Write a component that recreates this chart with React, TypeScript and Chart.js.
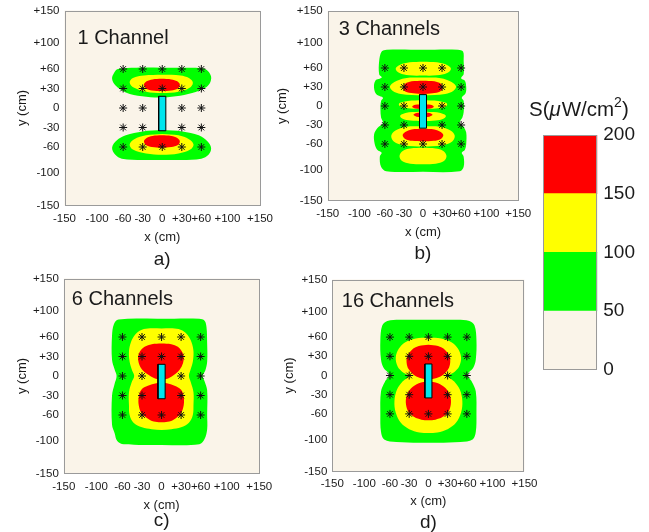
import React, { useEffect, useRef } from 'react';
import { Chart, registerables } from 'chart.js';

Chart.register(...registerables);

type Pt = [number, number];

// ---------- shared data ----------
const AXIS_TICKS = [-150, -100, -60, -30, 0, 30, 60, 100, 150];
const PROBE_X = [-60, -30, 0, 30, 60];
const PROBE_Y = [60, 30, 0, -30, -60];
const ANTENNA_X = [-5.5, 5.5];
const ANTENNA_Y = [-35, 18];
const LEVELS = [0, 50, 100, 150, 200];
const LEVEL_COLORS = ['#FAF4E9', '#00FF00', '#FFFF00', '#FF0000'];
const CB_TITLE = ['S(', 'μ', 'W/cm', '2', ')'];

// ---------- panel a : 1 Channel ----------
const A_GREEN_UPPER: Pt[] = [[0, 62], [40, 62], [62, 61], [70, 57], [75, 48], [73, 38], [66, 31], [46, 23], [21, 18], [-5, 16], [-31, 18], [-56, 24], [-72, 35], [-77, 45], [-74, 54], [-68, 60], [-40, 62], [0, 62]];
const A_YELLOW_UPPER: Pt[] = [[0, 51], [28, 50], [41, 46], [47, 39], [42, 31], [25, 25], [0, 23], [-25, 25], [-43, 31], [-50, 39], [-45, 46], [-28, 50], [0, 51]];
const A_RED_UPPER: Pt[] = [[-1, 45], [14, 44], [23, 41], [27, 36], [24, 30], [14, 27], [-1, 26], [-16, 27], [-25, 30], [-28, 36], [-24, 41], [-15, 44], [-1, 45]];
const A_GREEN_LOWER: Pt[] = [[0, -34], [31, -36], [56, -42], [70, -52], [75, -62], [71, -72], [60, -78], [30, -80], [0, -80], [-30, -80], [-62, -78], [-72, -72], [-77, -61], [-70, -50], [-56, -42], [-30, -36], [0, -34]];
const A_YELLOW_LOWER: Pt[] = [[0, -40], [25, -42], [41, -48], [48, -56], [43, -64], [25, -70], [0, -72], [-25, -70], [-45, -64], [-50, -56], [-43, -48], [-25, -42], [0, -40]];
const A_RED_LOWER: Pt[] = [[-1, -42], [14, -43], [23, -46], [27, -51], [24, -57], [14, -60], [-1, -61], [-16, -60], [-25, -57], [-28, -51], [-24, -46], [-15, -43], [-1, -42]];

// ---------- panel b : 3 Channels ----------
const B_GREEN: Pt[] = [[0, 89], [55, 89], [63, 86], [64, 71], [64, 50], [60, 44], [66, 40], [68, 30], [67, 20], [61, 13], [64, 8], [64, -10], [62, -18], [58, -26], [64, -33], [68, -42], [68, -60], [66, -69], [61, -74], [64, -80], [64, -96], [58, -103], [0, -104], [-58, -103], [-66, -96], [-68, -80], [-65, -74], [-72, -69], [-76, -60], [-77, -45], [-72, -35], [-63, -27], [-66, -18], [-67, -5], [-66, 8], [-63, 13], [-73, 18], [-77, 28], [-75, 40], [-65, 45], [-69, 50], [-69, 71], [-65, 86], [-57, 89], [0, 89]];
const B_YELLOW_TOP: Pt[] = [[0, 70], [22, 69], [37, 65], [44, 59], [38, 52], [22, 48.5], [0, 48], [-22, 48.5], [-37, 52], [-43, 59], [-36, 65], [-21, 69], [0, 70]];
const B_YELLOW_UP: Pt[] = [[0, 45], [28, 44], [45, 38], [52, 31], [48, 24], [35, 19], [0, 17], [-35, 19], [-48, 24], [-52, 31], [-45, 38], [-28, 44], [0, 45]];
const B_RED_UP: Pt[] = [[0, 40], [18, 39], [28, 35], [31, 29], [27, 23], [15, 20], [0, 19], [-15, 20], [-28, 23], [-31, 29], [-28, 35], [-18, 39], [0, 40]];
const B_YELLOW_MID1: Pt[] = [[0, 9], [24, 8], [36, 5], [38, 2], [34, -2], [20, -4], [0, -5], [-20, -4], [-34, -2], [-38, 2], [-36, 5], [-24, 8], [0, 9]];
const B_YELLOW_MID2: Pt[] = [[0, -9], [22, -10], [33, -13], [36, -16], [32, -20], [20, -23], [0, -24], [-20, -23], [-32, -20], [-36, -16], [-33, -13], [-22, -10], [0, -9]];
const B_RED_MID1: Pt[] = [[0, 2.5], [12, 2], [17, -1], [12, -4], [0, -4.5], [-12, -4], [-17, -1], [-12, 2], [0, 2.5]];
const B_RED_MID2: Pt[] = [[0, -10.5], [10, -11], [15, -14], [10, -17], [0, -17.5], [-10, -17], [-15, -14], [-10, -11], [0, -10.5]];
const B_YELLOW_LOW: Pt[] = [[0, -32], [28, -33], [44, -39], [50, -47], [46, -56], [30, -62], [0, -64], [-30, -62], [-46, -56], [-50, -47], [-44, -39], [-28, -33], [0, -32]];
const B_RED_LOW: Pt[] = [[0, -36], [18, -37], [28, -41], [32, -46], [28, -52], [17, -55], [0, -56], [-17, -55], [-28, -52], [-32, -46], [-28, -41], [-18, -37], [0, -36]];
const B_YELLOW_BOTTOM: Pt[] = [[0, -66], [20, -67], [32, -71], [37, -79], [33, -87], [20, -91], [0, -92], [-20, -91], [-33, -87], [-37, -79], [-32, -71], [-20, -67], [0, -66]];

// ---------- panel c : 6 Channels ----------
const C_GREEN: Pt[] = [[0, 88], [58, 88], [66, 85], [69, 75], [70, 50], [70, 22], [67, 8], [63, 0], [66, -8], [70, -22], [70, -60], [70, -82], [66, -97], [58, -105], [0, -106], [-58, -105], [-68, -100], [-72, -88], [-76, -75], [-76, -30], [-72, -12], [-69, 0], [-72, 10], [-76, 25], [-76, 62], [-73, 80], [-66, 87], [0, 88]];
const C_YELLOW: Pt[] = [[0, 73], [20, 73], [32, 70], [40, 63], [46, 52], [49, 38], [48, 22], [44, 8], [42, 0], [45, -10], [49, -25], [49, -45], [48, -60], [42, -72], [30, -79], [15, -82], [0, -83], [-15, -82], [-30, -79], [-43, -72], [-49, -60], [-50, -45], [-50, -25], [-46, -10], [-42, 0], [-45, 8], [-49, 22], [-50, 38], [-47, 52], [-41, 63], [-33, 70], [-21, 73], [0, 73]];
const C_RED_UPPER: Pt[] = [[0, 50], [15, 49], [25, 45], [31, 38], [34, 30], [33, 20], [28, 10], [21, 3], [10, -4], [0, -6], [-10, -4], [-22, 3], [-30, 10], [-35, 20], [-36, 30], [-33, 38], [-26, 45], [-15, 49], [0, 50]];
const C_RED_LOWER: Pt[] = [[0, -10], [8, -11], [20, -15], [30, -21], [34, -32], [34, -45], [30, -57], [22, -65], [12, -70], [0, -71], [-12, -70], [-22, -65], [-31, -57], [-35, -45], [-35, -32], [-31, -21], [-21, -15], [-8, -11], [0, -10]];

// ---------- panel d : 16 Channels ----------
const D_GREEN: Pt[] = [[0, 87], [45, 87], [64, 85], [72, 78], [75, 55], [74, 25], [70, 12], [61, 1], [68, -10], [74, -25], [75, -60], [74, -88], [69, -100], [50, -104], [0, -105], [-50, -104], [-69, -100], [-74, -88], [-75, -60], [-74, -25], [-68, -10], [-61, 1], [-70, 12], [-74, 25], [-75, 55], [-72, 78], [-64, 85], [-45, 87], [0, 87]];
const D_YELLOW: Pt[] = [[0, 59], [20, 58], [36, 52], [46, 42], [51, 28], [48, 14], [40, 5], [31, -1], [40, -9], [49, -22], [53, -40], [51, -58], [43, -74], [30, -84], [14, -89], [0, -90], [-14, -89], [-30, -84], [-43, -74], [-51, -58], [-53, -40], [-49, -22], [-40, -9], [-31, -1], [-40, 5], [-48, 14], [-51, 28], [-46, 42], [-36, 52], [-20, 58], [0, 59]];
const D_RED_UPPER: Pt[] = [[0, 48], [15, 46], [26, 40], [33, 30], [34, 20], [31, 10], [24, 2], [13, -4], [0, -6], [-13, -4], [-24, 2], [-31, 10], [-34, 20], [-33, 30], [-26, 40], [-15, 46], [0, 48]];
const D_RED_LOWER: Pt[] = [[0, -9], [15, -12], [27, -20], [34, -32], [35, -45], [31, -57], [22, -65], [11, -69], [0, -70], [-11, -69], [-22, -65], [-31, -57], [-35, -45], [-34, -32], [-27, -20], [-15, -12], [0, -9]];

// ---------- panels ----------
interface Contour { level: number; pts: Pt[] }
interface PanelSpec { title: string; tag: string; contours: Contour[] }

const PANELS: PanelSpec[] = [
  {
    title: '1 Channel', tag: 'a)',
    contours: [
      { level: 1, pts: A_GREEN_UPPER }, { level: 1, pts: A_GREEN_LOWER },
      { level: 2, pts: A_YELLOW_UPPER }, { level: 2, pts: A_YELLOW_LOWER },
      { level: 3, pts: A_RED_UPPER }, { level: 3, pts: A_RED_LOWER },
    ],
  },
  {
    title: '3 Channels', tag: 'b)',
    contours: [
      { level: 1, pts: B_GREEN },
      { level: 2, pts: B_YELLOW_TOP }, { level: 2, pts: B_YELLOW_UP }, { level: 2, pts: B_YELLOW_MID1 },
      { level: 2, pts: B_YELLOW_MID2 }, { level: 2, pts: B_YELLOW_LOW }, { level: 2, pts: B_YELLOW_BOTTOM },
      { level: 3, pts: B_RED_UP }, { level: 3, pts: B_RED_MID1 }, { level: 3, pts: B_RED_MID2 }, { level: 3, pts: B_RED_LOW },
    ],
  },
  {
    title: '6 Channels', tag: 'c)',
    contours: [
      { level: 1, pts: C_GREEN }, { level: 2, pts: C_YELLOW },
      { level: 3, pts: C_RED_UPPER }, { level: 3, pts: C_RED_LOWER },
    ],
  },
  {
    title: '16 Channels', tag: 'd)',
    contours: [
      { level: 1, pts: D_GREEN }, { level: 2, pts: D_YELLOW },
      { level: 3, pts: D_RED_UPPER }, { level: 3, pts: D_RED_LOWER },
    ],
  },
];

// ---------- layout (page pixels) ----------
interface Box {
  L: number; T: number; R: number; B: number;
  tickY: number; xTitleY: number; tagY: number; yTitleX: number;
  titleDX: number; titleDY: number;
}
const PANEL_BOXES: Box[] = [
  { L: 64.5, T: 10.5, R: 260, B: 205.5, tickY: 219, xTitleY: 237, tagY: 260, yTitleX: 22.5, titleDX: 13, titleDY: 28 },
  { L: 327.7, T: 11, R: 518.3, B: 201, tickY: 213.5, xTitleY: 232, tagY: 254, yTitleX: 282.7, titleDX: 11, titleDY: 18 },
  { L: 63.8, T: 278.5, R: 259.3, B: 473.5, tickY: 486.5, xTitleY: 505, tagY: 521, yTitleX: 22.7, titleDX: 8, titleDY: 20.5 },
  { L: 332.3, T: 279.5, R: 524.5, B: 471.5, tickY: 484, xTitleY: 501, tagY: 523, yTitleX: 289, titleDX: 9.5, titleDY: 22 },
];
const CB_BOX = { L: 543.3, T: 135, R: 597.3, B: 369.7, titleX: 529, titleBase: 116 };

const FONT = "'Liberation Sans', Arial, Helvetica, sans-serif";
const TEXT = '#1a1a1a';
const FRAME = '#9a9a9a';

const fmtTick = (v: number) => (v > 0 ? '+' + v : String(v));

function Panel({ spec, box }: { spec: PanelSpec; box: Box }) {
  const ref = useRef<HTMLCanvasElement>(null);
  const cl = Math.floor(box.L - 64);
  const ct = Math.floor(box.T - 12);
  const cw = Math.ceil(box.R + 24 - cl);
  const ch = Math.ceil(box.tagY + 16 - ct);

  useEffect(() => {
    const yAxisW = box.L - cl;
    const padTop = box.T - ct;
    const padRight = cw - (box.R - cl);
    const xTitleLH = 13 * 1.2;
    const xAxisH = box.xTitleY - box.B + xTitleLH / 2;
    const padBottom = ch - padTop - (box.B - box.T) - xAxisH;

    const datasets: any[] = spec.contours.map((c) => ({
      data: c.pts.map(([x, y]) => ({ x, y })),
      showLine: true,
      fill: 'shape',
      backgroundColor: LEVEL_COLORS[c.level],
      borderColor: 'rgba(0,0,0,0)',
      borderWidth: 0,
      pointRadius: 0,
      tension: 0.35,
      order: 10 - c.level,
    }));
    const [ax0, ax1] = ANTENNA_X;
    const [ay0, ay1] = ANTENNA_Y;
    datasets.push({
      data: [{ x: ax0, y: ay0 }, { x: ax1, y: ay0 }, { x: ax1, y: ay1 }, { x: ax0, y: ay1 }, { x: ax0, y: ay0 }],
      showLine: true,
      fill: 'shape',
      backgroundColor: '#00E5EE',
      borderColor: '#000000',
      borderWidth: 1,
      pointRadius: 0,
      tension: 0,
      order: 1,
    });
    const probes = PROBE_X.flatMap((x) => PROBE_Y.map((y) => ({ x, y }))).filter(
      (p) => !(p.x >= ax0 && p.x <= ax1 && p.y >= ay0 && p.y <= ay1)
    );
    datasets.push({
      data: probes,
      showLine: false,
      pointStyle: 'star',
      pointRadius: 4,
      pointBorderWidth: 1,
      pointBorderColor: '#111111',
      pointBackgroundColor: 'rgba(0,0,0,0)',
      order: 0,
    });

    const deco = {
      id: 'deco',
      beforeDatasetsDraw(chart: any) {
        const { ctx, chartArea: a } = chart;
        ctx.save();
        ctx.fillStyle = LEVEL_COLORS[0];
        ctx.fillRect(a.left, a.top, a.right - a.left, a.bottom - a.top);
        ctx.restore();
      },
      afterDraw(chart: any) {
        const { ctx, chartArea: a } = chart;
        ctx.save();
        ctx.strokeStyle = FRAME;
        ctx.lineWidth = 1;
        ctx.strokeRect(Math.round(a.left) + 0.5, Math.round(a.top) + 0.5, Math.round(a.right - a.left) - 1, Math.round(a.bottom - a.top) - 1);
        ctx.fillStyle = TEXT;
        ctx.font = `20px ${FONT}`;
        ctx.textAlign = 'left';
        ctx.textBaseline = 'middle';
        ctx.fillText(spec.title, a.left + box.titleDX, a.top + box.titleDY);
        ctx.font = `19px ${FONT}`;
        ctx.textAlign = 'center';
        ctx.fillText(spec.tag, (a.left + a.right) / 2, box.tagY - ct);
        ctx.restore();
      },
    };

    const tickFont = { family: FONT, size: 11.5 };
    const titleFont = { family: FONT, size: 13 };
    const chart = new Chart(ref.current as HTMLCanvasElement, {
      type: 'scatter',
      data: { datasets },
      options: {
        responsive: false,
        animation: false,
        events: [],
        layout: { padding: { left: 0, top: padTop, right: padRight, bottom: padBottom } },
        plugins: { legend: { display: false }, tooltip: { enabled: false }, title: { display: false } },
        scales: {
          x: {
            type: 'linear', min: -150, max: 150,
            afterBuildTicks: (s: any) => { s.ticks = AXIS_TICKS.map((v) => ({ value: v })); },
            afterFit: (s: any) => { s.height = xAxisH; },
            ticks: {
              autoSkip: false, maxRotation: 0, minRotation: 0, font: tickFont, color: TEXT,
              padding: box.tickY - box.B - 6.9,
              callback: (v: any) => fmtTick(Number(v)),
            },
            grid: { display: false, drawTicks: false },
            border: { display: false },
            title: { display: true, text: 'x (cm)', font: titleFont, color: TEXT, padding: { top: 0, bottom: 0 } },
          },
          y: {
            type: 'linear', min: -150, max: 150,
            afterBuildTicks: (s: any) => { s.ticks = AXIS_TICKS.map((v) => ({ value: v })); },
            afterFit: (s: any) => { s.width = yAxisW; },
            ticks: {
              autoSkip: false, font: tickFont, color: TEXT, padding: 5,
              callback: (v: any) => fmtTick(Number(v)),
            },
            grid: { display: false, drawTicks: false },
            border: { display: false },
            title: {
              display: true, text: 'y (cm)', font: titleFont, color: TEXT,
              padding: { top: box.yTitleX - cl - 13 * 1.2 / 2, bottom: 0 },
            },
          },
        },
      } as any,
      plugins: [deco],
    });
    return () => chart.destroy();
  }, []);

  return (
    <canvas
      ref={ref}
      width={cw}
      height={ch}
      style={{ position: 'absolute', left: cl, top: ct, width: cw, height: ch }}
    />
  );
}

function ColorBar() {
  const ref = useRef<HTMLCanvasElement>(null);
  const cl = 520;
  const ct = 90;
  const cw = 129;
  const ch = 300;
  useEffect(() => {
    const b = CB_BOX;
    const datasets = LEVEL_COLORS.map((col, i) => ({
      data: [LEVELS[i + 1] - LEVELS[i]],
      backgroundColor: col,
      borderWidth: 0,
      barPercentage: 1,
      categoryPercentage: 1,
      stack: 'cb',
    }));
    const deco = {
      id: 'cbdeco',
      afterDraw(chart: any) {
        const { ctx, chartArea: a } = chart;
        ctx.save();
        ctx.strokeStyle = FRAME;
        ctx.lineWidth = 1;
        ctx.strokeRect(Math.round(a.left) + 0.5, Math.round(a.top) + 0.5, Math.round(a.right - a.left) - 1, Math.round(a.bottom - a.top) - 1);
        ctx.fillStyle = TEXT;
        ctx.textAlign = 'left';
        ctx.textBaseline = 'alphabetic';
        let x = b.titleX - cl;
        const y = b.titleBase - ct;
        CB_TITLE.forEach((t, i) => {
          const sup = i === 3;
          ctx.font = sup ? `14px ${FONT}` : i === 1 ? `italic 20.5px ${FONT}` : `20.5px ${FONT}`;
          ctx.fillText(t, x, sup ? y - 9.5 : y);
          x += ctx.measureText(t).width + (i === 1 ? 1 : 0);
        });
        ctx.restore();
      },
    };
    const chart = new Chart(ref.current as HTMLCanvasElement, {
      type: 'bar',
      data: { labels: [''], datasets },
      options: {
        responsive: false,
        animation: false,
        events: [],
        layout: { padding: { left: b.L - cl, top: b.T - ct, right: 0, bottom: ch - (b.B - ct) } },
        plugins: { legend: { display: false }, tooltip: { enabled: false } },
        scales: {
          x: { stacked: true, display: false },
          y: {
            stacked: true, min: 0, max: 200, position: 'right',
            afterBuildTicks: (s: any) => { s.ticks = LEVELS.map((v) => ({ value: v })); },
            afterFit: (s: any) => { s.width = cw - (b.R - cl); },
            ticks: { font: { family: FONT, size: 19 }, color: TEXT, padding: 6 },
            grid: { display: false, drawTicks: false },
            border: { display: false },
          },
        },
      } as any,
      plugins: [deco],
    });
    return () => chart.destroy();
  }, []);
  return (
    <canvas
      ref={ref}
      width={cw}
      height={ch}
      style={{ position: 'absolute', left: cl, top: ct, width: cw, height: ch }}
    />
  );
}

export default function App() {
  return (
    <div style={{ position: 'fixed', left: 0, top: 0, width: 649, height: 532, background: '#ffffff', overflow: 'hidden' }}>
      {PANELS.map((p, i) => (
        <Panel key={i} spec={p} box={PANEL_BOXES[i]} />
      ))}
      <ColorBar />
    </div>
  );
}
